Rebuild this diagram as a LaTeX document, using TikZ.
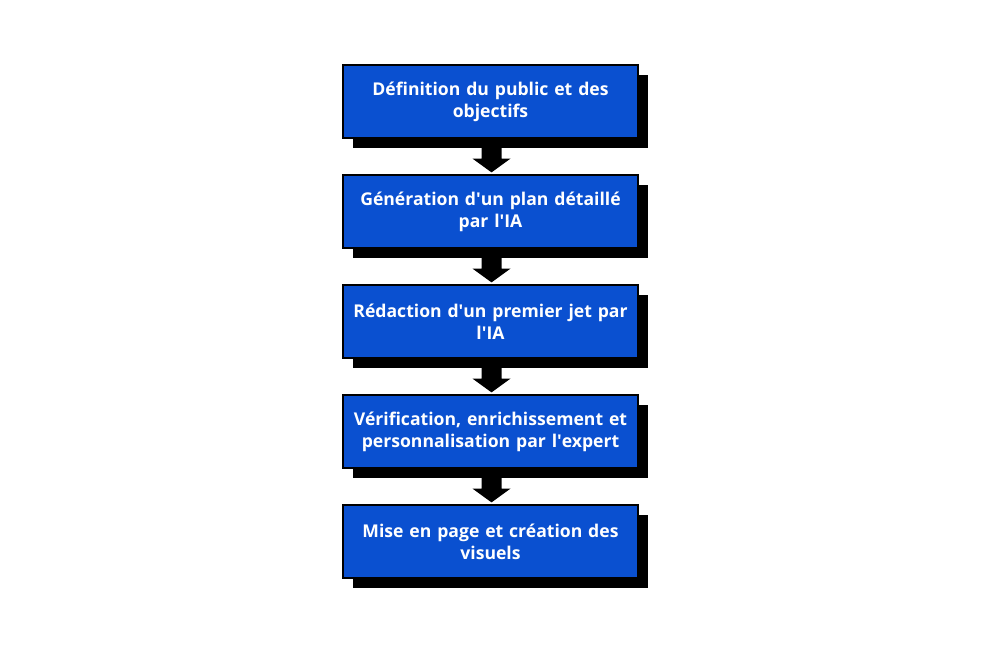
\documentclass[tikz,border=0pt]{standalone}
\usepackage{fontspec}
\usetikzlibrary{calc}
\setmainfont{Open Sans}
\definecolor{boxblue}{RGB}{10,80,208}
\newcommand{\q}{\textquotesingle}
\begin{document}
\begin{tikzpicture}[x=1pt,y=-1pt,
  stepbox/.style={draw=black,line width=1.2pt,fill=boxblue,minimum width=295pt,minimum height=73pt,
    text=white,font=\bfseries\fontsize{17.6}{22}\selectfont,align=center,text width=290pt,inner sep=0pt},
  shadowbox/.style={fill=black,minimum width=295pt,minimum height=73pt,inner sep=0pt},
  flowarrow/.style={fill=black}]
\useasboundingbox (0,0) rectangle (1001,667);
\foreach \i/\t in {1/{Définition du public et des\\objectifs},
                   2/{Génération d\q un plan détaillé\\par l\q IA},
                   3/{Rédaction d\q un premier jet par\\l\q IA},
                   4/{Vérification, enrichissement et\\personnalisation par l\q expert},
                   5/{Mise en page et création des\\visuels}}{
  \pgfmathsetmacro{\yc}{101.5+(\i-1)*110}
  \node[shadowbox] (s\i) at (500.5,\yc+10) {};
  \node[stepbox] (b\i) at (490.5,\yc) {\t};
}
\foreach \a/\b in {1/2,2/3,3/4,4/5}{
  \coordinate (t\a) at ($(b\b.north)+(1,-2)$);
  \coordinate (h\a) at ($(b\a.south)+(1,20)$);
  \fill[flowarrow] ($(b\a.south)+(-9,0)$) -- ($(b\a.south)+(11,0)$)
    -- ($(h\a)+(10,0)$) -- ($(h\a)+(19,0)$) -- (t\a) -- ($(h\a)+(-19,0)$)
    -- ($(h\a)+(-10,0)$) -- cycle;
}
\end{tikzpicture}
\end{document}
